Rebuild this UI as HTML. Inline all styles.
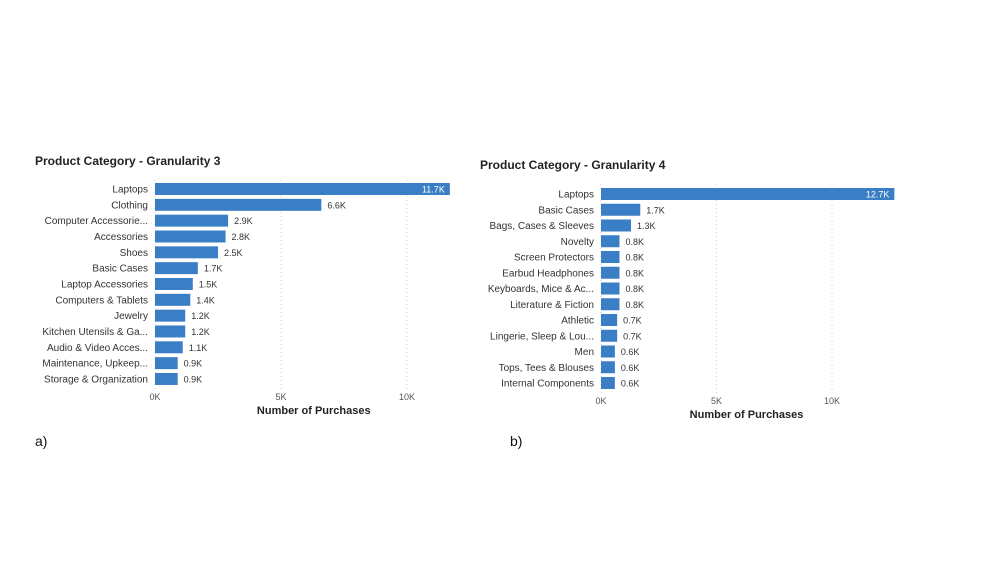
<!DOCTYPE html>
<html><head><meta charset="utf-8"><style>
body{margin:0;background:#fff;width:996px;height:576px;overflow:hidden;font-family:"Liberation Sans","DejaVu Sans",sans-serif}
svg text{font-family:"Liberation Sans","DejaVu Sans",sans-serif}
</style></head><body>
<svg id="s" width="996" height="576">
<text x="35" y="165" font-size="12" font-weight="bold" fill="#222">Product Category - Granularity 3</text>
<text x="480" y="169" font-size="12" font-weight="bold" fill="#222">Product Category - Granularity 4</text>
<text x="35" y="446" font-size="14" fill="#111">a)</text>
<text x="510" y="446" font-size="14" fill="#111">b)</text>
</svg>
<script>
const catsA=["Laptops","Clothing","Computer Accessorie...","Accessories","Shoes","Basic Cases","Laptop Accessories","Computers & Tablets","Jewelry","Kitchen Utensils & Ga...","Audio & Video Acces...","Maintenance, Upkeep...","Storage & Organization"];
const valsA=[11.7,6.6,2.9,2.8,2.5,1.7,1.5,1.4,1.2,1.2,1.1,0.9,0.9];
const catsB=["Laptops","Basic Cases","Bags, Cases & Sleeves","Novelty","Screen Protectors","Earbud Headphones","Keyboards, Mice & Ac...","Literature & Fiction","Athletic","Lingerie, Sleep & Lou...","Men","Tops, Tees & Blouses","Internal Components"];
const valsB=[12.7,1.7,1.3,0.8,0.8,0.8,0.8,0.8,0.7,0.7,0.6,0.6,0.6];
const ticks=[0,5,10];
const tickLabels=["0K","5K","10K"];
const svg=document.getElementById('s');
const NS="http://www.w3.org/2000/svg";
function mk(t,a){const e=document.createElementNS(NS,t);for(const k in a)e.setAttribute(k,a[k]);svg.appendChild(e);return e;}
function chart(id,cats,vals,x0,ppk,y0,step,top,bottom){
  const x=v=>x0+v*ppk;
  ticks.forEach((t,i)=>{
    const l=mk('line',{x1:x(t),x2:x(t),y1:top,y2:bottom,stroke:'#ccc','stroke-dasharray':'1,3'});
    
    
    const tx=mk('text',{x:x(t),y:bottom+10,'font-size':'9','text-anchor':'middle',fill:'#555'});
    tx.textContent=tickLabels[i];
    
    
  });
  const at=mk('text',{x:x(6.3),y:bottom+24,'font-size':'11','font-weight':'bold','text-anchor':'middle',fill:'#222'});
  at.textContent="Number of Purchases";
  
  
  cats.forEach((c,i)=>{
    const cy=y0+i*step;
    const lb=mk('text',{x:x0-7,y:cy+3.5,'font-size':'10','text-anchor':'end',fill:'#333'});
    lb.textContent=c;
    
    
    const w=vals[i]*ppk;
    const r=mk('rect',{x:x0,y:cy-6,width:w,height:12,fill:'#3a7ec6'});
    
    
    const inside=w>200;
    const vt=mk('text',{x:inside?x0+w-5:x0+w+6,y:cy+3.5,'font-size':'9','text-anchor':inside?'end':'start',fill:inside?'#fff':'#333'});
    vt.textContent=vals[i].toFixed(1)+"K";
    
    
  });
}
chart('chart-a',catsA,valsA,155,25.2,189,15.83,180,390);
chart('chart-b',catsB,valsB,601,23.1,194,15.75,184,394);
</script>
</body></html>
